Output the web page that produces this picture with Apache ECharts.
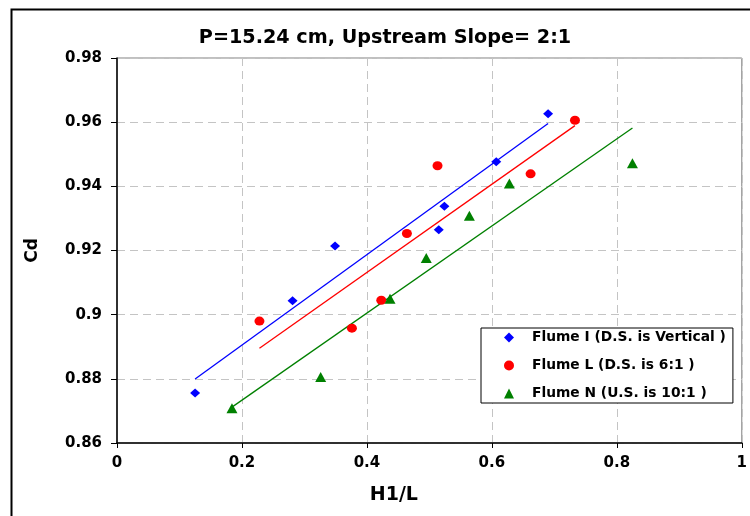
<!DOCTYPE html>
<html>
<head>
<meta charset="utf-8">
<script src="https://cdn.jsdelivr.net/npm/echarts@6/dist/echarts.min.js"></script>
<style>
html,body{margin:0;padding:0;background:#fff;}
#chart{width:750px;height:516px;}
</style>
</head>
<body>
<div id="chart"></div>
<script>
// ---- data ----
const titleText = 'P=15.24 cm, Upstream Slope= 2:1';
const xName = 'H1/L';
const yName = 'Cd';
const seriesNames = ['Flume I (D.S. is Vertical )', 'Flume L (D.S. is 6:1 )', 'Flume N (U.S. is 10:1 )'];
const flumeIx = [0.125, 0.281, 0.349, 0.515, 0.524, 0.607, 0.690];
const flumeIy = [0.8756, 0.9043, 0.9214, 0.9265, 0.9338, 0.9477, 0.9626];
const flumeLx = [0.228, 0.376, 0.423, 0.464, 0.513, 0.662, 0.733];
const flumeLy = [0.8980, 0.8958, 0.9045, 0.9253, 0.9464, 0.9439, 0.9606];
const flumeNx = [0.184, 0.326, 0.437, 0.495, 0.564, 0.628, 0.825];
const flumeNy = [0.8708, 0.8806, 0.9050, 0.9177, 0.9308, 0.9409, 0.9472];
const xTicks = [0, 0.2, 0.4, 0.6, 0.8, 1];
const yTicks = [0.86, 0.88, 0.90, 0.92, 0.94, 0.96, 0.98];

// ---- helpers ----
function pairs(xs, ys) { return xs.map((x, i) => [x, ys[i]]); }
function trend(xs, ys) {
  const n = xs.length;
  const mx = xs.reduce((a, b) => a + b, 0) / n;
  const my = ys.reduce((a, b) => a + b, 0) / n;
  let sxy = 0, sxx = 0;
  for (let i = 0; i < n; i++) { sxy += (xs[i] - mx) * (ys[i] - my); sxx += (xs[i] - mx) ** 2; }
  const b = sxy / sxx, a = my - b * mx;
  const x0 = Math.min(...xs), x1 = Math.max(...xs);
  return [[x0, a + b * x0], [x1, a + b * x1]];
}

const colors = ['#0000ff', '#ff0000', '#008000'];
const FONT = 'DejaVu Sans';
const chart = echarts.init(document.getElementById('chart'), null, {renderer: 'canvas'});

const scatterDefs = [
  {name: seriesNames[0], data: pairs(flumeIx, flumeIy), symbol: 'diamond', size: [10, 9], color: colors[0]},
  {name: seriesNames[1], data: pairs(flumeLx, flumeLy), symbol: 'circle', size: [10, 9], color: colors[1]},
  {name: seriesNames[2], data: pairs(flumeNx, flumeNy), symbol: 'triangle', size: [11, 10], color: colors[2]}
];
const trendData = [trend(flumeIx, flumeIy), trend(flumeLx, flumeLy), trend(flumeNx, flumeNy)];

const series = [];
trendData.forEach((d, i) => {
  series.push({
    type: 'line', data: d, symbol: 'none', silent: true, z: 2,
    lineStyle: {color: colors[i], width: 1.3}, animation: false
  });
});
scatterDefs.forEach(s => {
  series.push({
    type: 'scatter', name: s.name, data: s.data, symbol: s.symbol, symbolSize: s.size,
    itemStyle: {color: s.color, opacity: 1}, z: 3, animation: false
  });
});

chart.setOption({
  animation: false,
  backgroundColor: '#fff',
  title: {
    text: titleText, left: 380, top: 24, textAlign: 'center',
    textStyle: {fontFamily: FONT, fontWeight: 'bold', fontSize: 19.2, color: '#000'}
  },
  grid: {
    left: 117, top: 58, width: 629, height: 385,
    show: true, borderColor: '#808080', borderWidth: 1, backgroundColor: 'transparent'
  },
  legend: {
    orient: 'vertical', left: 481, top: 328,
    itemWidth: 10, itemHeight: 10, itemGap: 13,
    padding: [2, 7, 2, 23],
    backgroundColor: '#fff', borderColor: '#000', borderWidth: 1,
    data: seriesNames,
    textStyle: {fontFamily: FONT, fontWeight: 'bold', fontSize: 13.8, color: '#000', lineHeight: 15, padding: [0, 0, 0, 13]}
  },
  xAxis: {
    type: 'value', min: xTicks[0], max: xTicks[xTicks.length - 1], interval: 0.2,
    name: xName, nameLocation: 'middle', nameGap: 43,
    nameTextStyle: {fontFamily: FONT, fontWeight: 'bold', fontSize: 19, color: '#000', padding: [0, 71, 0, 0]},
    axisLine: {show: true, onZero: false, lineStyle: {color: '#000', width: 1.5}},
    axisTick: {show: true, length: 5, lineStyle: {color: '#000', width: 1}},
    axisLabel: {fontFamily: FONT, fontWeight: 'bold', fontSize: 15, color: '#000', margin: 13,
      formatter: v => String(+v.toFixed(2))},
    splitLine: {show: true, lineStyle: {color: '#c4c4c4', type: [8, 5], width: 1}}
  },
  yAxis: {
    type: 'value', min: yTicks[0], max: yTicks[yTicks.length - 1], interval: 0.02,
    name: yName, nameLocation: 'middle', nameGap: 76, nameRotate: 90,
    nameTextStyle: {fontFamily: FONT, fontWeight: 'bold', fontSize: 17, color: '#000'},
    axisLine: {show: true, onZero: false, lineStyle: {color: '#000', width: 1.5}},
    axisTick: {show: true, length: 6, lineStyle: {color: '#000', width: 1}},
    axisLabel: {fontFamily: FONT, fontWeight: 'bold', fontSize: 15, color: '#000', margin: 15,
      formatter: v => String(+v.toFixed(2))},
    splitLine: {show: true, lineStyle: {color: '#c4c4c4', type: [8, 5], width: 1}}
  },
  graphic: [{
    type: 'rect', left: 9, top: 7, silent: true, z: 100,
    shape: {x: 0, y: 0, width: 760, height: 530},
    style: {fill: 'none', stroke: '#000', lineWidth: 2}
  }],
  series: series
});
</script>
</body>
</html>
